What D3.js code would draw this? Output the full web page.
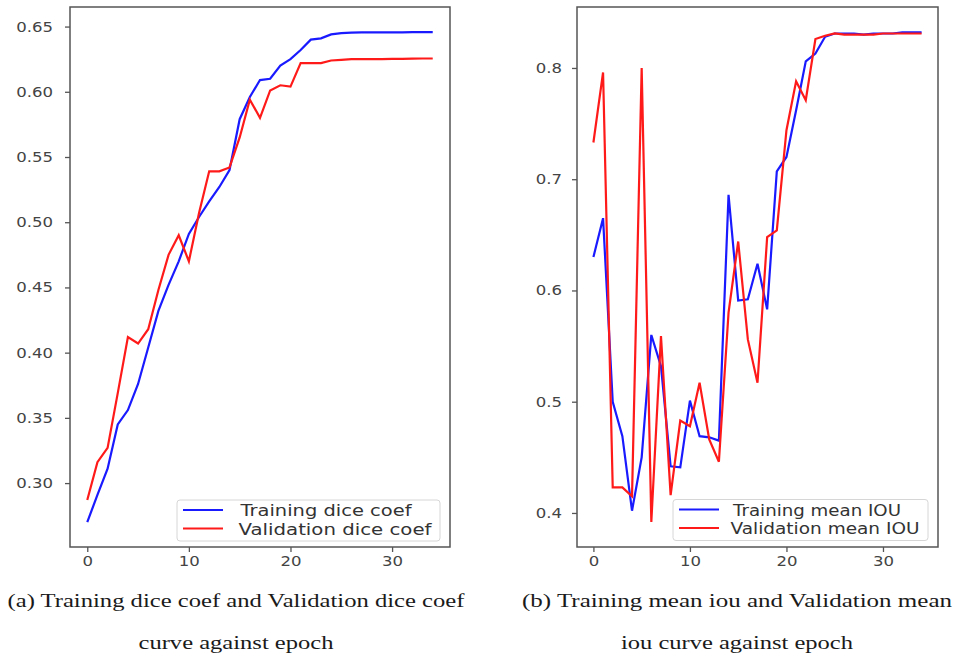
<!DOCTYPE html>
<html>
<head>
<meta charset="utf-8">
<title>Dice coef and mean IOU curves</title>
<script src="https://d3js.org/d3.v7.min.js"></script>
<style>
  body { margin: 0; background: #fff; }
  svg { display: block; }
</style>
</head>
<body>
<script>
// epochs 0..34
var epochs = [0,1,2,3,4,5,6,7,8,9,10,11,12,13,14,15,16,17,18,19,20,21,22,23,24,25,26,27,28,29,30,31,32,33,34];

var trainDice = [0.270,0.291,0.311,0.345,0.356,0.376,0.404,0.432,0.452,0.470,0.491,0.504,0.516,0.527,0.540,
                 0.579,0.596,0.609,0.610,0.620,0.625,0.632,0.640,0.641,0.644,0.645,0.6453,0.6455,0.6455,0.6455,
                 0.6456,0.6456,0.6457,0.6457,0.6457];
var valDice   = [0.287,0.316,0.327,0.369,0.412,0.407,0.418,0.448,0.475,0.490,0.470,0.507,0.539,0.539,0.542,
                 0.565,0.594,0.580,0.601,0.605,0.604,0.622,0.622,0.622,0.624,0.6245,0.625,0.625,0.625,0.625,
                 0.6252,0.6253,0.6254,0.6255,0.6255];

var trainIou  = [0.630,0.665,0.500,0.469,0.402,0.450,0.560,0.532,0.442,0.441,0.501,0.469,0.468,0.465,0.686,
                 0.591,0.592,0.624,0.583,0.707,0.720,0.762,0.806,0.813,0.828,0.831,0.831,0.831,0.830,0.831,
                 0.831,0.831,0.832,0.832,0.832];
var valIou    = [0.733,0.796,0.423,0.423,0.415,0.800,0.392,0.559,0.416,0.483,0.478,0.517,0.466,0.446,0.580,
                 0.644,0.556,0.517,0.648,0.654,0.744,0.788,0.771,0.826,0.829,0.831,0.830,0.830,0.830,0.830,
                 0.831,0.831,0.831,0.831,0.831];

var diceTicks = [0.30,0.35,0.40,0.45,0.50,0.55,0.60,0.65];
var iouTicks  = [0.4,0.5,0.6,0.7,0.8];
var xTicks    = [0,10,20,30];

var diceLabels = ["Training dice coef", "Validation dice coef"];
var iouLabels  = ["Training mean IOU", "Validation mean IOU"];
var captionA = ["(a) Training dice coef and Validation dice coef", "curve against epoch"];
var captionB = ["(b) Training mean iou and Validation mean", "iou curve against epoch"];

var svg = d3.select("body").append("svg")
    .attr("width", 957)
    .attr("height", 662);

function panel(opt) {
    var x = d3.scaleLinear().domain([-1.7, 35.7]).range([opt.left, opt.right]);
    var y = d3.scaleLinear().domain(opt.yDomain).range([opt.bottom, opt.top]);
    var g = svg.append("g");

    var yAxis = g.append("g")
        .attr("transform", "translate(" + opt.left + ",0)")
        .call(d3.axisLeft(y).tickValues(opt.yTicks).tickFormat(opt.yFormat).tickSize(5).tickPadding(opt.yPad));
    var xAxis = g.append("g")
        .attr("transform", "translate(0," + opt.bottom + ")")
        .call(d3.axisBottom(x).tickValues(xTicks).tickFormat(d3.format("d")).tickSize(5).tickPadding(4));

    [yAxis, xAxis].forEach(function(a) {
        a.select(".domain").remove();
        a.selectAll(".tick line").attr("stroke", "#555").attr("stroke-width", 1.3);
        a.selectAll(".tick text")
            .attr("fill", "#444")
            .style("font-family", "'DejaVu Sans', sans-serif")
            .style("font-size", "14px")
            .each(function() {
                // the scan is a bit wider than the font, stretch labels to match
                var w = this.getComputedTextLength();
                d3.select(this).attr("textLength", w * 1.18).attr("lengthAdjust", "spacingAndGlyphs");
            });
    });

    var line = d3.line()
        .x(function(d, i) { return x(epochs[i]); })
        .y(function(d) { return y(d); });

    g.append("path").datum(opt.train)
        .attr("d", line).attr("fill", "none")
        .attr("stroke", "#1a1aff").attr("stroke-width", 2.2);
    g.append("path").datum(opt.val)
        .attr("d", line).attr("fill", "none")
        .attr("stroke", "#ff1a1a").attr("stroke-width", 2.2);

    // frame
    g.append("rect")
        .attr("x", opt.left).attr("y", opt.top)
        .attr("width", opt.right - opt.left).attr("height", opt.bottom - opt.top)
        .attr("fill", "none").attr("stroke", "#555").attr("stroke-width", 1.5);

    // legend
    var lg = opt.legend;
    g.append("rect")
        .attr("x", lg.x).attr("y", lg.y).attr("width", lg.w).attr("height", lg.h)
        .attr("rx", 3).attr("fill", "#fff").attr("fill-opacity", 0.85)
        .attr("stroke", "#d6d6d6");
    var colors = ["#1a1aff", "#ff1a1a"];
    lg.labels.forEach(function(t, i) {
        var ly = lg.y + 10 + i * 18.5;
        g.append("line")
            .attr("x1", lg.x + 6).attr("x2", lg.x + 46)
            .attr("y1", ly).attr("y2", ly)
            .attr("stroke", colors[i]).attr("stroke-width", 2.2);
        g.append("text")
            .attr("x", lg.tx[i]).attr("y", ly + 6)
            .attr("textLength", lg.tw[i]).attr("lengthAdjust", "spacingAndGlyphs")
            .attr("fill", "#333")
            .style("font-family", "'DejaVu Sans', sans-serif")
            .style("font-size", "15px")
            .text(t);
    });

    // caption
    opt.caption.forEach(function(t, i) {
        g.append("text")
            .attr("x", opt.capX).attr("y", i === 0 ? 607 : 649)
            .attr("text-anchor", "middle")
            .attr("textLength", opt.capW[i]).attr("lengthAdjust", "spacingAndGlyphs")
            .attr("fill", "#1a1a1a")
            .style("font-family", "'Liberation Serif', serif")
            .style("font-size", "19px")
            .text(t);
    });
}

panel({
    left: 70, right: 450, top: 7, bottom: 547,
    yDomain: [0.251, 0.665], yTicks: diceTicks, yFormat: d3.format(".2f"), yPad: 12,
    train: trainDice, val: valDice,
    legend: { x: 177, y: 500, w: 263, h: 41, labels: diceLabels, tx: [240.5, 238.5], tw: [171, 193] },
    caption: captionA, capX: 236, capW: [457, 195]
});

panel({
    left: 577, right: 938, top: 7, bottom: 547,
    yDomain: [0.3694, 0.8548], yTicks: iouTicks, yFormat: d3.format(".1f"), yPad: 10,
    train: trainIou, val: valIou,
    legend: { x: 673, y: 499.5, w: 255, h: 41, labels: iouLabels, tx: [733, 730.5], tw: [168, 189] },
    caption: captionB, capX: 737, capW: [430, 232]
});
</script>
</body>
</html>
